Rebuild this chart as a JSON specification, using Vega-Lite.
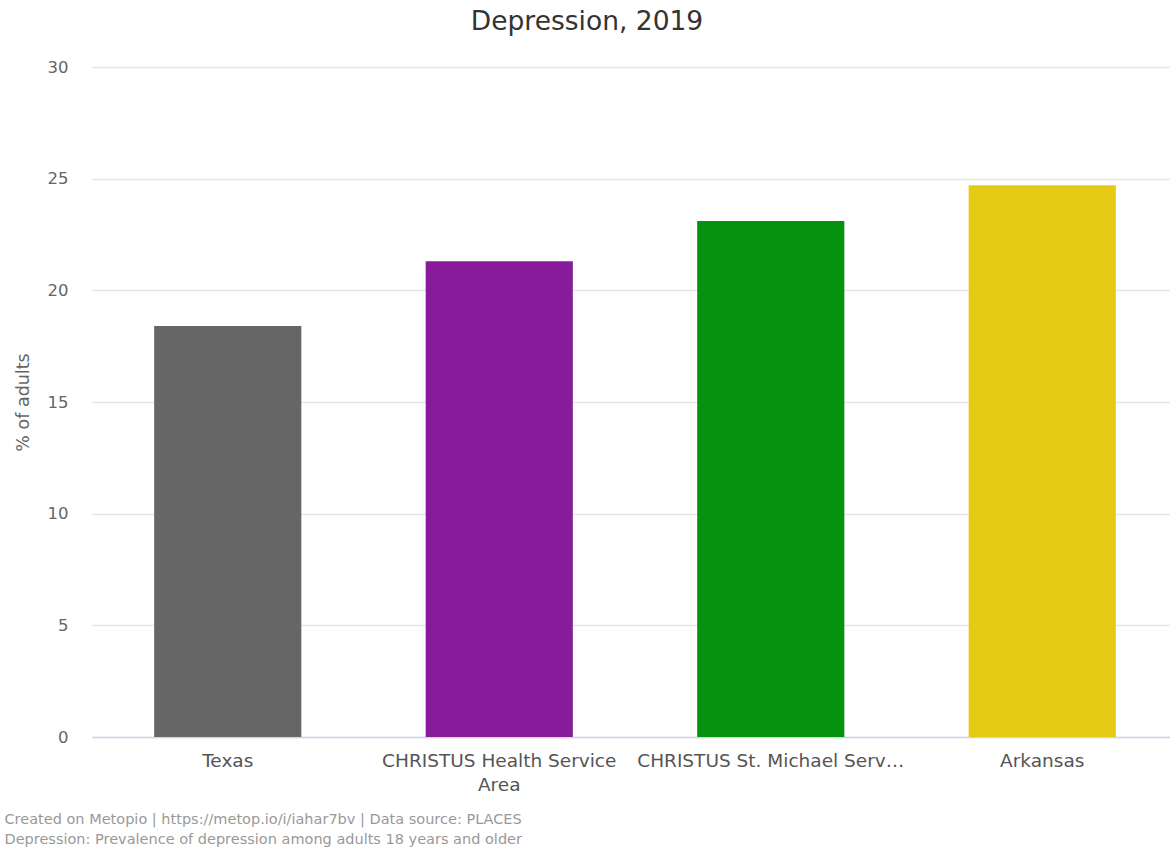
{
  "$schema": "https://vega.github.io/schema/vega-lite/v6.json",
  "autosize": "none",
  "width": 1086,
  "height": 670,
  "padding": {"left": 92, "top": 67, "right": 0, "bottom": 111},
  "background": "white",
  "title": {
    "text": "Depression, 2019",
    "font": "DejaVu Sans",
    "fontSize": 26.5,
    "fontWeight": "normal",
    "color": "#333333",
    "anchor": "middle",
    "dx": -48,
    "offset": 24
  },
  "data": {
    "values": [
      {"region": "Texas", "value": 18.4},
      {"region": "CHRISTUS Health Service Area", "value": 21.3},
      {"region": "CHRISTUS St. Michael Service Area", "value": 23.1},
      {"region": "Arkansas", "value": 24.7}
    ]
  },
  "mark": {"type": "bar"},
  "encoding": {
    "x": {
      "field": "region",
      "type": "nominal",
      "sort": null,
      "scale": {"paddingInner": 0.458, "paddingOuter": 0.229},
      "axis": {
        "title": ["Created on Metopio | https://metop.io/i/iahar7bv | Data source: PLACES", "Depression: Prevalence of depression among adults 18 years and older"],
        "titleFont": "DejaVu Sans",
        "titleFontSize": 14.5,
        "titleFontWeight": "normal",
        "titleColor": "#999999",
        "titleAnchor": "start",
        "titleAlign": "left",
        "titleBaseline": "alphabetic",
        "titleX": -88,
        "titleY": 86,
        "titleLineHeight": 20,
        "labelAngle": 0,
        "labelFont": "DejaVu Sans",
        "labelFontSize": 18.5,
        "labelColor": "#555555",
        "labelPadding": 14,
        "labelLineHeight": 24,
        "labelLimit": 300,
        "labelExpr": "datum.value == 'CHRISTUS Health Service Area' ? ['CHRISTUS Health Service', 'Area'] : (datum.value == 'CHRISTUS St. Michael Service Area' ? 'CHRISTUS St. Michael Serv…' : datum.value)",
        "ticks": false,
        "domainColor": "#ccd6eb",
        "domainWidth": 1.5
      }
    },
    "y": {
      "field": "value",
      "type": "quantitative",
      "scale": {"domain": [0, 30]},
      "axis": {
        "title": "% of adults",
        "titleFont": "DejaVu Sans",
        "titleFontSize": 17.5,
        "titleFontWeight": "normal",
        "titleColor": "#666666",
        "titlePadding": 15,
        "values": [0, 5, 10, 15, 20, 25, 30],
        "labelFont": "DejaVu Sans",
        "labelFontSize": 16.5,
        "labelColor": "#666666",
        "labelPadding": 24,
        "ticks": false,
        "domain": false,
        "gridColor": "#e6e6e6",
        "gridWidth": 1.5
      }
    },
    "color": {
      "field": "region",
      "type": "nominal",
      "scale": {
        "domain": ["Texas", "CHRISTUS Health Service Area", "CHRISTUS St. Michael Service Area", "Arkansas"],
        "range": ["#666666", "#871b9a", "#05930f", "#e5ca13"]
      },
      "legend": null
    }
  },
  "config": {"view": {"stroke": null}}
}
